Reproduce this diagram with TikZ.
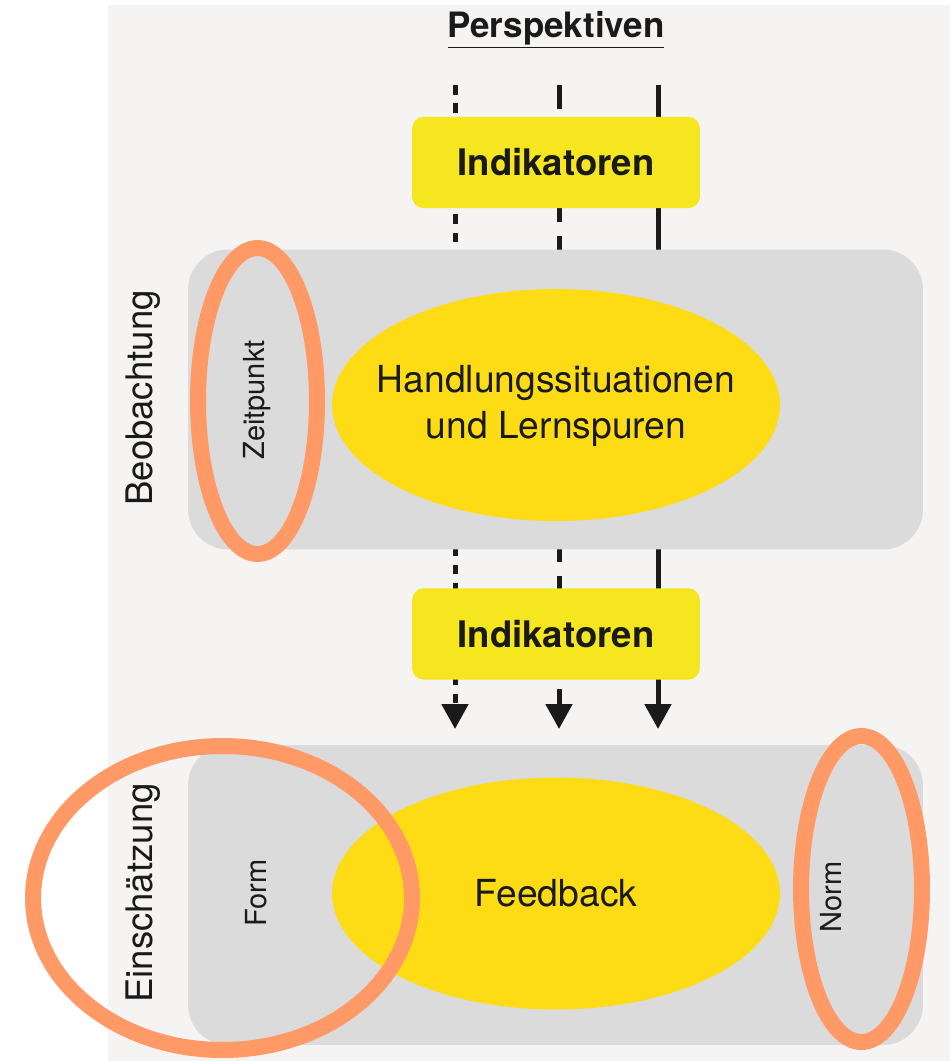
\documentclass[tikz,border=0pt]{standalone}
\usepackage{fontspec}
\setmainfont{TeX Gyre Heros}
\usetikzlibrary{arrows.meta,shapes.geometric}
\definecolor{panelgrey}{HTML}{F5F4F3}
\definecolor{boxgrey}{HTML}{DBDBDB}
\definecolor{indyellow}{HTML}{F6E61F}
\definecolor{ellyellow}{HTML}{FDDC15}
\definecolor{markorange}{HTML}{FF9966}
\definecolor{inkblack}{HTML}{1A1A1A}
\tikzset{
    every node/.style={text=inkblack}
}
\tikzset{
    greybox/.style={rectangle, rounded corners=0.8cm, fill=boxgrey,
        minimum width=14.7cm, minimum height=6cm},
    indbox/.style={rectangle, rounded corners=0.24cm, fill=indyellow,
        minimum width=5.76cm, minimum height=1.83cm,
        font=\fontsize{20.8}{24}\selectfont\bfseries},
    yellowell/.style={ellipse, fill=ellyellow, inner sep=0pt,
        minimum width=8.96cm, minimum height=4.64cm},
    markell/.style={ellipse, draw=markorange, line width=0.32cm, inner sep=0pt},
    bigtext/.style={font=\fontsize{21.2}{25.8}\selectfont, align=center},
    sidelabel/.style={rotate=90, font=\fontsize{20.8}{24}\selectfont},
    smalllabel/.style={rotate=90, font=\fontsize{16.5}{19}\selectfont},
    persp/.style={draw=inkblack, line width=2.85pt,
        -{Triangle[length=0.5cm,width=0.52cm]}}
}

\begin{document}
\begin{tikzpicture}[x=0.02cm, y=-0.02cm]
  \useasboundingbox (0,0) rectangle (950,1061);
  \fill[panelgrey] (108,5) rectangle (950,1061);

  \node (title) [font=\fontsize{19.9}{24}\selectfont\bfseries] at (556,30) {\underline{Perspektiven}};

  % perspective lines
  \coordinate (aTop) at (455,85);
  \coordinate (bTop) at (559,85);
  \coordinate (cTop) at (658,85);
  \coordinate (aEnd) at (455,729);
  \coordinate (bEnd) at (559,729);
  \coordinate (cEnd) at (658,729);
  \draw [persp, dash pattern=on 5.5pt off 5pt] (aTop) -- (aEnd);
  \draw [persp, dash pattern=on 13.5pt off 8pt] (bTop) -- (bEnd);
  \draw [persp] (cTop) -- (cEnd);

  % Beobachtung
  \node (obsbox) [greybox] at (555.5,399.5) {};
  \node (sitell) [yellowell] at (556,405) {};
  \node (sittext) [bigtext] at (556,406) {Handlungssituationen\\und Lernspuren};
  \node (zeit) [smalllabel] at (257,400) {Zeitpunkt};
  \node (obs) [sidelabel] at (143,398) {Beobachtung};

  % Einschaetzung
  \node (evalbox) [greybox] at (555.5,895) {};
  \node (fbell) [yellowell] at (556,893.5) {};
  \node (fbtext) [bigtext] at (fbell) {Feedback};
  \node (form) [smalllabel] at (256,893) {Form};
  \node (norm) [smalllabel] at (831,897) {Norm};
  \node (eval) [sidelabel] at (143,893) {Einschätzung};

  \node (indtop) [indbox] at (556,162.5) {Indikatoren};
  \node (indbot) [indbox] at (556,634) {Indikatoren};

  % markings
  \node (zeitmark) [markell, minimum width=2.38cm, minimum height=6.12cm] at (257.5,401) {};
  \node (formmark) [markell, minimum width=7.58cm, minimum height=6.08cm] at (222.5,898) {};
  \node (normmark) [markell, minimum width=2.42cm, minimum height=6.12cm] at (861.5,889) {};
\end{tikzpicture}
\end{document}
